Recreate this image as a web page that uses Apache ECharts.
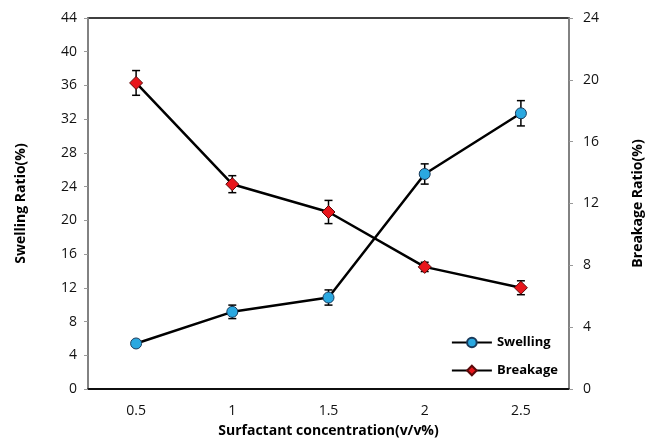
<!DOCTYPE html>
<html><head><meta charset="utf-8">
<script src="https://cdn.jsdelivr.net/npm/echarts@6/dist/echarts.min.js"></script>
<style>html,body{margin:0;padding:0;background:#fff}#c{width:649px;height:439px}</style>
</head><body><div id="c"></div>
<script>
const categories = ['0.5', '1', '1.5', '2', '2.5'];
const swelling = [5.4, 9.15, 10.85, 25.5, 32.7];
const swellingErr = [0.3, 0.8, 0.9, 1.2, 1.5];
const breakage = [19.8, 13.25, 11.45, 7.9, 6.55];
const breakageErr = [0.8, 0.55, 0.75, 0.3, 0.45];
const leftTicks = {min: 0, max: 44, interval: 4};
const rightTicks = {min: 0, max: 24, interval: 4};

const font = '"Open Sans", "DejaVu Sans", sans-serif';

function errSeries(vals, errs, yIdx) {
  return {
    type: 'custom', yAxisIndex: yIdx, silent: true, z: 1,
    data: vals.map((v, i) => [i, v - errs[i], v + errs[i]]),
    renderItem: function (params, api) {
      const lo = api.coord([api.value(0), api.value(1)]);
      const hi = api.coord([api.value(0), api.value(2)]);
      const w = 4;
      const st = {stroke: '#000', lineWidth: 1.5};
      return {type: 'group', children: [
        {type: 'line', shape: {x1: lo[0], y1: lo[1], x2: hi[0], y2: hi[1]}, style: st},
        {type: 'line', shape: {x1: lo[0] - w, y1: lo[1], x2: lo[0] + w, y2: lo[1]}, style: st},
        {type: 'line', shape: {x1: hi[0] - w, y1: hi[1], x2: hi[0] + w, y2: hi[1]}, style: st}
      ]};
    }
  };
}

const chart = echarts.init(document.getElementById('c'));
chart.setOption({
  animation: false,
  textStyle: {fontFamily: font},
  grid: {left: 88, right: 80, top: 18, bottom: 50, show: true, borderColor: '#000', borderWidth: 1.5,
         containLabel: false, outerBoundsMode: 'none'},
  legend: {
    orient: 'vertical', right: 86, bottom: 57, itemGap: 15, itemWidth: 40, itemHeight: 12,
    data: ['Swelling', 'Breakage'],
    textStyle: {fontFamily: font, fontWeight: 'bold', fontSize: 13, color: '#000'}
  },
  xAxis: {
    type: 'category', data: categories, boundaryGap: true,
    name: 'Surfactant concentration(v/v%)', nameLocation: 'middle', nameGap: 35,
    nameTextStyle: {fontFamily: font, fontWeight: 'bold', fontSize: 14, color: '#000'},
    axisLine: {lineStyle: {color: '#000', width: 1.5}},
    axisTick: {show: false},
    axisLabel: {fontSize: 14, color: '#111', margin: 15}
  },
  yAxis: [{
    type: 'value', min: leftTicks.min, max: leftTicks.max, interval: leftTicks.interval,
    name: 'Swelling Ratio(%)', nameLocation: 'middle', nameGap: 60, nameRotate: 90,
    nameTextStyle: {fontFamily: font, fontWeight: 'bold', fontSize: 14, color: '#000'},
    axisLine: {show: true, lineStyle: {color: '#999', width: 1.5}},
    axisTick: {show: true, length: 4, lineStyle: {color: '#999'}},
    splitLine: {show: false},
    axisLabel: {fontSize: 14, color: '#111', margin: 11}
  }, {
    type: 'value', position: 'right', min: rightTicks.min, max: rightTicks.max, interval: rightTicks.interval,
    name: 'Breakage Ratio(%)', nameLocation: 'middle', nameGap: 62, nameRotate: 90,
    nameTextStyle: {fontFamily: font, fontWeight: 'bold', fontSize: 14, color: '#000'},
    axisLine: {show: true, lineStyle: {color: '#999', width: 1.5}},
    axisTick: {show: true, length: 4, lineStyle: {color: '#999'}},
    splitLine: {show: false},
    axisLabel: {fontSize: 14, color: '#111', margin: 14}
  }],
  series: [
    errSeries(swelling, swellingErr, 0),
    errSeries(breakage, breakageErr, 1),
    {
      name: 'Swelling', type: 'line', yAxisIndex: 0, data: swelling, z: 3,
      symbol: 'circle', symbolSize: 11,
      lineStyle: {color: '#000', width: 2.5},
      itemStyle: {color: '#2AA8E0', borderColor: '#1a3a5a', borderWidth: 1}
    },
    {
      name: 'Breakage', type: 'line', yAxisIndex: 1, data: breakage, z: 3,
      symbol: 'diamond', symbolSize: 13,
      lineStyle: {color: '#000', width: 2.5},
      itemStyle: {color: '#E8151B', borderColor: '#5a0a0a', borderWidth: 1}
    }
  ]
});
</script></body></html>
